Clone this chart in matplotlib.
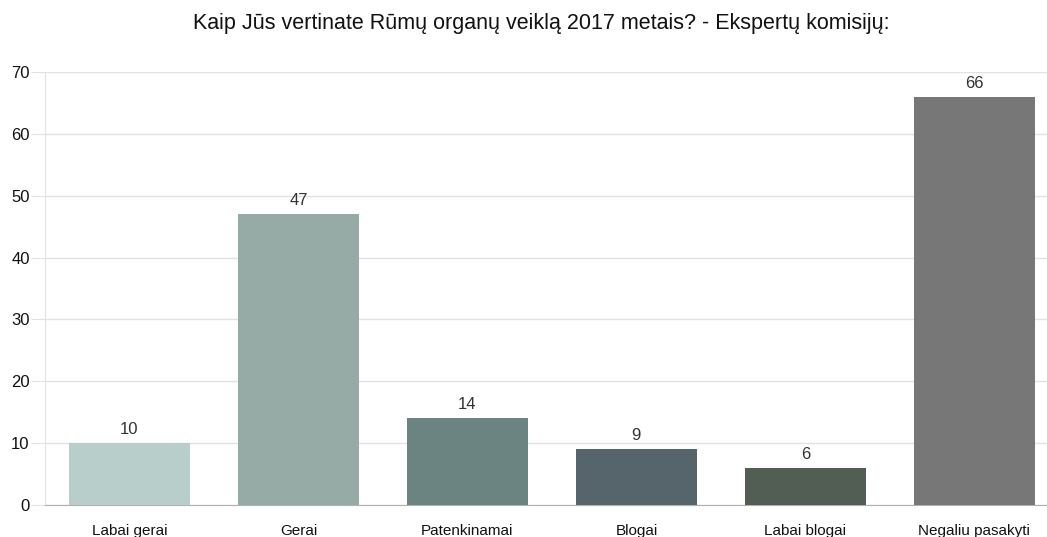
import matplotlib.pyplot as plt

plt.rcParams['font.family'] = ['Liberation Sans', 'DejaVu Sans']

categories = ['Labai gerai', 'Gerai', 'Patenkinamai', 'Blogai', 'Labai blogai', 'Negaliu pasakyti']
values = [10, 47, 14, 9, 6, 66]
colors = ['#b8ceca', '#96aaa6', '#6b8482', '#56656b', '#525d54', '#777777']

fig = plt.figure(figsize=(10.47, 5.37), dpi=100)
ax = fig.add_axes([45 / 1047, 1 - 505 / 537, 1 - 45 / 1047, (505 - 72) / 537])

x = range(len(categories))
bars = ax.bar(x, values, width=0.72, color=colors, zorder=3)
for b, v in zip(bars, values):
    ax.text(b.get_x() + b.get_width() / 2, v + 1.0, str(v), ha='center', va='bottom',
            fontsize=12, color='#333333')

ax.set_xlim(-0.5, 5.43)
ax.set_ylim(0, 70)
ax.set_yticks(range(0, 71, 10))
ax.set_xticks(list(x))
ax.set_xticklabels(categories)
ax.grid(axis='y', color='#e2e2e2', linewidth=1, zorder=0)
for s in ['top', 'right']:
    ax.spines[s].set_visible(False)
ax.spines['left'].set_color('#e2e2e2')
ax.spines['bottom'].set_color('#b0b0b0')
ax.tick_params(axis='y', length=10, color='#e2e2e2', pad=1, labelsize=12, labelcolor='#111111')
ax.tick_params(axis='x', length=0, pad=14, labelsize=11, labelcolor='#111111')

fig.text(541 / 1047, 1 - 23 / 537, 'Kaip Jūs vertinate Rūmų organų veiklą 2017 metais? - Ekspertų komisijų:',
         ha='center', va='center', fontsize=15.5, color='#111111')

fig.savefig('out.png', dpi=100)
